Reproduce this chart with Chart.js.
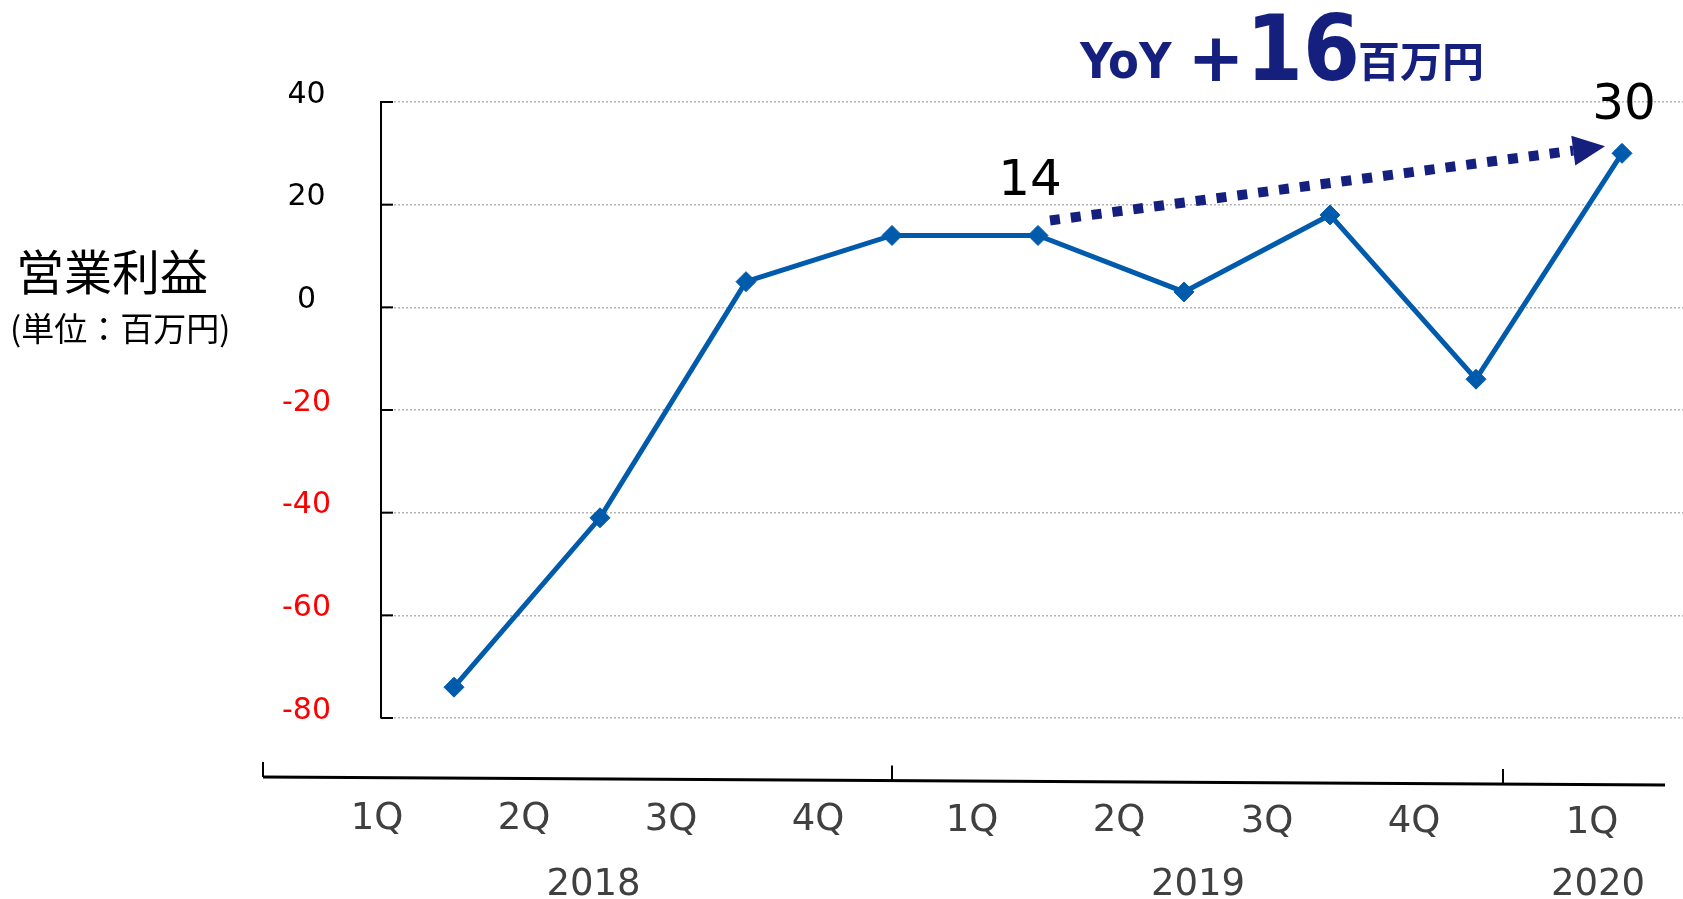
<!DOCTYPE html>
<html><head><meta charset="utf-8">
<script src="https://cdn.jsdelivr.net/npm/chart.js@4/dist/chart.umd.min.js"></script>
<style>html,body{margin:0;padding:0;overflow:hidden;background:#fff;width:1683px;height:899px}#wrap{width:1696px;height:899px}</style>
</head><body><div id="wrap"><canvas id="c" width="1696" height="899"></canvas></div>
<script>
const quarters = ['1Q','2Q','3Q','4Q','1Q','2Q','3Q','4Q','1Q'];
const quarterYears = ['2018','2018','2018','2018','2019','2019','2019','2019','2020'];
const years = ['2018','2019','2020'];
const operatingProfit = [-74, -41, 5, 14, 14, 3, 18, -14, 30];
const yTicks = [-80, -60, -40, -20, 0, 20, 40];
const labeledPoints = [4, 8];
const yoyFrom = 4, yoyTo = 8;

const NAVY = '#151F7E';
const LINE = '#005BAC';

const overlay = {
  id: 'overlay',
  afterDraw(chart) {
    const ctx = chart.ctx, xs = chart.scales.x, ys = chart.scales.y, ca = chart.chartArea;
    ctx.save();
    // inward tick marks on y axis
    ctx.strokeStyle = '#000'; ctx.lineWidth = 2;
    ys.ticks.forEach(t => {
      const y = ys.getPixelForValue(t.value);
      ctx.beginPath(); ctx.moveTo(ca.left, y); ctx.lineTo(ca.left + 12, y); ctx.stroke();
    });
    // axis title
    ctx.fillStyle = '#000'; ctx.textAlign = 'left'; ctx.textBaseline = 'alphabetic';
    ctx.font = '48px "Noto Sans CJK JP"'; ctx.fillText('営業利益', 16, 290);
    ctx.font = '33px "Noto Sans CJK JP"'; ctx.fillText('(単位：百万円)', 10, 341);

    // bottom category band line
    const x0 = ca.left - 118, x1 = 1665, yA = 777, yB = 785;
    const yAt = x => yA + (x - x0) * (yB - yA) / (x1 - x0);
    ctx.strokeStyle = '#000'; ctx.lineWidth = 3;
    ctx.beginPath(); ctx.moveTo(x0, yA); ctx.lineTo(x1, yB); ctx.stroke();
    ctx.lineWidth = 2;
    [x0, xs.getPixelForValue(3), xs.getPixelForValue(7) + 27].forEach(x => {
      ctx.beginPath(); ctx.moveTo(x, yAt(x)); ctx.lineTo(x, yAt(x) - 15); ctx.stroke();
    });

    // quarter and year labels
    const qShift = [-77, -76, -75, -74, -66, -65, -63, -62, -30];
    const yearShift = [-4, 5, 6];
    const qx = quarters.map((q, i) => xs.getPixelForValue(i) + qShift[i]);
    ctx.font = '37px "DejaVu Sans"'; ctx.fillStyle = '#404040'; ctx.textAlign = 'center';
    quarters.forEach((q, i) => ctx.fillText(q, qx[i], 829 + (qx[i] - qx[0]) * 4 / (qx[8] - qx[0])));
    years.forEach((yr, k) => {
      const idx = quarterYears.map((y, i) => y === yr ? i : -1).filter(i => i >= 0);
      const mean = idx.reduce((s, i) => s + qx[i], 0) / idx.length;
      ctx.fillText(yr, mean + yearShift[k], 895);
    });

    // data labels
    ctx.font = '50px "DejaVu Sans"'; ctx.fillStyle = '#000';
    const lblOff = {4: [-8, -40], 8: [2, -34]};
    labeledPoints.forEach(i => {
      const px = xs.getPixelForValue(i), py = ys.getPixelForValue(operatingProfit[i]);
      ctx.fillText(String(operatingProfit[i]), px + lblOff[i][0], py + lblOff[i][1]);
    });

    // dotted arrow
    const sx = xs.getPixelForValue(yoyFrom) + 12, sy = ys.getPixelForValue(operatingProfit[yoyFrom]) - 15;
    const tx = xs.getPixelForValue(yoyTo) - 17, ty = ys.getPixelForValue(operatingProfit[yoyTo]) - 7;
    const ang = Math.atan2(ty - sy, tx - sx), L = 32, W = 15;
    const bx = tx - L * Math.cos(ang), by = ty - L * Math.sin(ang);
    ctx.strokeStyle = NAVY; ctx.lineWidth = 10; ctx.setLineDash([10, 11]); ctx.lineCap = 'butt';
    ctx.beginPath(); ctx.moveTo(sx, sy); ctx.lineTo(bx, by); ctx.stroke(); ctx.setLineDash([]);
    ctx.fillStyle = NAVY; ctx.beginPath(); ctx.moveTo(tx, ty);
    ctx.lineTo(bx + W * Math.sin(ang), by - W * Math.cos(ang));
    ctx.lineTo(bx - W * Math.sin(ang), by + W * Math.cos(ang));
    ctx.closePath(); ctx.fill();

    // YoY title
    const delta = operatingProfit[yoyTo] - operatingProfit[yoyFrom];
    ctx.fillStyle = NAVY; ctx.textAlign = 'left'; ctx.textBaseline = 'alphabetic';
    ctx.font = 'bold 50px "DejaVu Sans Condensed", "DejaVu Sans"'; ctx.fillText('YoY', 1080, 78);
    ctx.font = 'bold 68px "DejaVu Sans"'; ctx.textAlign = 'center';
    ctx.fillText('+', 1216, 81);
    ctx.textAlign = 'left';
    ctx.font = 'bold 91px "DejaVu Sans Condensed", "DejaVu Sans"'; ctx.fillText(String(delta), 1246, 80);
    ctx.font = 'bold 42px "Noto Sans CJK JP"'; ctx.fillText('百万円', 1358, 77);
    ctx.restore();
  }
};

new Chart(document.getElementById('c'), {
  type: 'line',
  data: {
    labels: quarters.map((q, i) => quarterYears[i] + ' ' + q),
    datasets: [{
      data: operatingProfit,
      borderColor: LINE, backgroundColor: LINE,
      borderWidth: 5, pointStyle: 'rectRot', pointRadius: 10, pointBorderWidth: 1,
      pointBackgroundColor: LINE, pointBorderColor: LINE, tension: 0, clip: false
    }]
  },
  options: {
    responsive: false, animation: false,
    layout: {autoPadding: false, padding: {left: 0, top: 102, right: 1, bottom: 181}},
    plugins: {legend: {display: false}, tooltip: {enabled: false}},
    scales: {
      x: {display: false, offset: true},
      y: {
        min: -80, max: 40,
        afterFit(s) { s.width = 381; },
        afterBuildTicks(s) { s.ticks = yTicks.map(v => ({value: v})); },
        grid: {color: '#b4b4b4', lineWidth: 1.5, drawTicks: false},
        border: {color: '#000', width: 2, dash: [2, 2]},
        ticks: {
          padding: 50, labelOffset: -7, crossAlign: 'center',
          font: {family: '"DejaVu Sans"', size: 30},
          color: c => (c.tick && c.tick.value < 0) ? '#FF0000' : '#000'
        }
      }
    }
  },
  plugins: [overlay]
});
</script></body></html>
